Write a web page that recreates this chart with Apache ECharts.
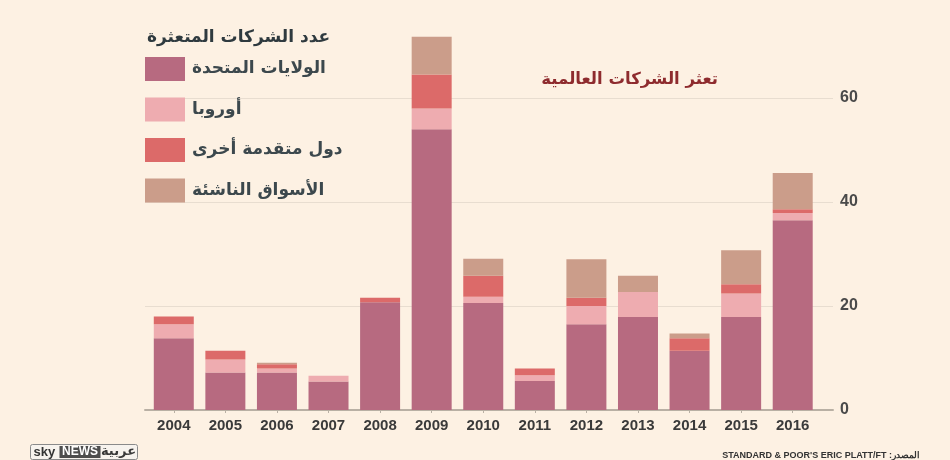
<!DOCTYPE html>
<html lang="ar">
  <head>
    <meta charset="UTF-8" />
    <title>تعثر الشركات العالمية</title>
    <script src="https://cdn.jsdelivr.net/npm/echarts@6/dist/echarts.min.js"></script>
    <style>
      html, body { margin: 0; padding: 0; background: #fdf1e3; }
      #chart { width: 950px; height: 460px; }
    </style>
  </head>
  <body>
    <div id="chart"></div>
    <script>
      // السنوات وعدد الشركات المتعثرة حسب المنطقة
      var years = ['2004', '2005', '2006', '2007', '2008', '2009', '2010',
                   '2011', '2012', '2013', '2014', '2015', '2016'];
      var usData       = [13.8, 7.2, 7.2, 5.5, 20.7, 54, 20.6, 5.6, 16.5, 17.9, 11.4, 17.9, 36.5];
      var europeData   = [2.7, 2.5, 0.8, 1.1, 0, 4, 1.2, 1.1, 3.5, 4.8, 0, 4.5, 1.4];
      var otherAdvData = [1.5, 1.7, 0.8, 0, 0.9, 6.5, 4.0, 1.3, 1.6, 0, 2.4, 1.8, 0.7];
      var emergingData = [0, 0, 0.3, 0, 0, 7.3, 3.3, 0, 7.4, 3.1, 0.9, 6.5, 7.0];
      var yTicks = [0, 20, 40, 60, 80];

      var seriesNames = ['الولايات المتحدة', 'أوروبا', 'دول متقدمة أخرى', 'الأسواق الناشئة'];
      var colors = ['#b76a80', '#eeacb0', '#dc6a69', '#cb9d8a'];
      var arabicFont = '"DejaVu Sans", sans-serif';
      var latinFont = '"Liberation Sans", Arial, sans-serif';

      var chart = echarts.init(document.getElementById('chart'));

      function barSeries(i, data) {
        return {
          name: seriesNames[i],
          type: 'bar',
          stack: 'total',
          xAxisIndex: 0,
          yAxisIndex: 0,
          barWidth: 40,
          itemStyle: { color: colors[i] },
          emphasis: { disabled: true },
          data: data
        };
      }

      var option = {
        backgroundColor: '#fdf1e3',
        animation: false,
        color: colors,
        title: [
          {
            text: 'عدد الشركات المتعثرة',
            left: 147,
            top: 29,
            padding: 0,
            textStyle: { fontFamily: arabicFont, fontSize: 17, fontWeight: 'bold', color: '#2f3a3f' }
          },
          {
            text: 'تعثر الشركات العالمية',
            right: 232,
            top: 71,
            padding: 0,
            textStyle: { fontFamily: arabicFont, fontSize: 16.5, fontWeight: 'bold', color: '#8e2b2e' }
          }
        ],
        legend: {
          orient: 'vertical',
          left: 145,
          top: 57,
          padding: 0,
          itemWidth: 40,
          itemHeight: 24,
          itemGap: 16.5,
          icon: 'rect',
          selectedMode: false,
          data: seriesNames,
          textStyle: {
            fontFamily: arabicFont,
            fontSize: 17,
            fontWeight: 'bold',
            color: '#3c484d',
            padding: [0, 0, 0, 2]
          }
        },
        grid: [
          // شبكة الأعمدة
          { left: 148, right: 131.5, top: -6, bottom: 50, outerBoundsMode: 'none' },
          // شبكة الخطوط والمحور الأيمن (أعرض قليلاً)
          { left: 145, right: 117, top: -6, bottom: 50, outerBoundsMode: 'none' }
        ],
        xAxis: [
          {
            type: 'category',
            gridIndex: 0,
            data: years,
            axisLine: { show: false },
            axisTick: { show: true, alignWithLabel: true, length: 3, lineStyle: { color: '#b9b0a4', width: 1 } },
            axisLabel: {
              margin: 8,
              fontFamily: latinFont,
              fontSize: 15,
              fontWeight: 'bold',
              color: '#3a3a3a'
            }
          },
          {
            type: 'value',
            gridIndex: 1,
            min: 0,
            max: 1,
            axisLine: { show: true, onZero: false, lineStyle: { color: '#b9b0a4', width: 2 } },
            axisTick: { show: false },
            axisLabel: { show: false },
            splitLine: { show: false }
          }
        ],
        yAxis: [
          {
            type: 'value',
            gridIndex: 0,
            min: 0,
            max: 80,
            interval: 20,
            show: false,
            splitLine: { show: false }
          },
          {
            type: 'value',
            gridIndex: 1,
            position: 'right',
            min: yTicks[0],
            max: yTicks[yTicks.length - 1],
            interval: 20,
            axisLine: { show: false },
            axisTick: { show: false },
            axisLabel: {
              margin: 7,
              fontFamily: latinFont,
              fontSize: 16,
              fontWeight: 'bold',
              color: '#4a4a4a',
              formatter: function (v) { return yTicks.indexOf(v) >= 0 ? String(v) : ''; }
            },
            splitLine: { show: true, lineStyle: { color: '#e8ddd0', width: 1 } }
          }
        ],
        series: [
          barSeries(0, usData),
          barSeries(1, europeData),
          barSeries(2, otherAdvData),
          barSeries(3, emergingData)
        ],
        graphic: [
          // شعار سكاي نيوز عربية
          {
            type: 'group',
            left: 30,
            top: 444,
            children: [
              { type: 'rect', shape: { x: 0, y: 0, width: 107, height: 15, r: 2 },
                style: { fill: '#f7f3ee', stroke: '#8a8a8a', lineWidth: 1 } },
              { type: 'text', x: 3, y: 7.5,
                style: { text: 'sky', fontFamily: latinFont, fontSize: 13, fontWeight: 'bold',
                         fill: '#333', textVerticalAlign: 'middle' } },
              { type: 'rect', shape: { x: 29, y: 1.5, width: 41, height: 12 },
                style: { fill: '#4d4d4d' } },
              { type: 'text', x: 49.5, y: 7.5,
                style: { text: 'NEWS', fontFamily: latinFont, fontSize: 12, fontWeight: 'bold',
                         fill: '#fff', textAlign: 'center', textVerticalAlign: 'middle' } },
              { type: 'text', x: 88, y: 7,
                style: { text: 'عربية', fontFamily: arabicFont, fontSize: 13, fontWeight: 'bold',
                         fill: '#3a3a3a', textAlign: 'center', textVerticalAlign: 'middle' } }
            ]
          },
          // المصدر
          {
            type: 'text',
            right: 30,
            top: 451,
            style: {
              text: "STANDARD & POOR'S ERIC PLATT/FT :المصدر",
              fontFamily: latinFont,
              fontSize: 9,
              fontWeight: 'bold',
              fill: '#333'
            }
          }
        ]
      };

      chart.setOption(option);
    </script>
  </body>
</html>
